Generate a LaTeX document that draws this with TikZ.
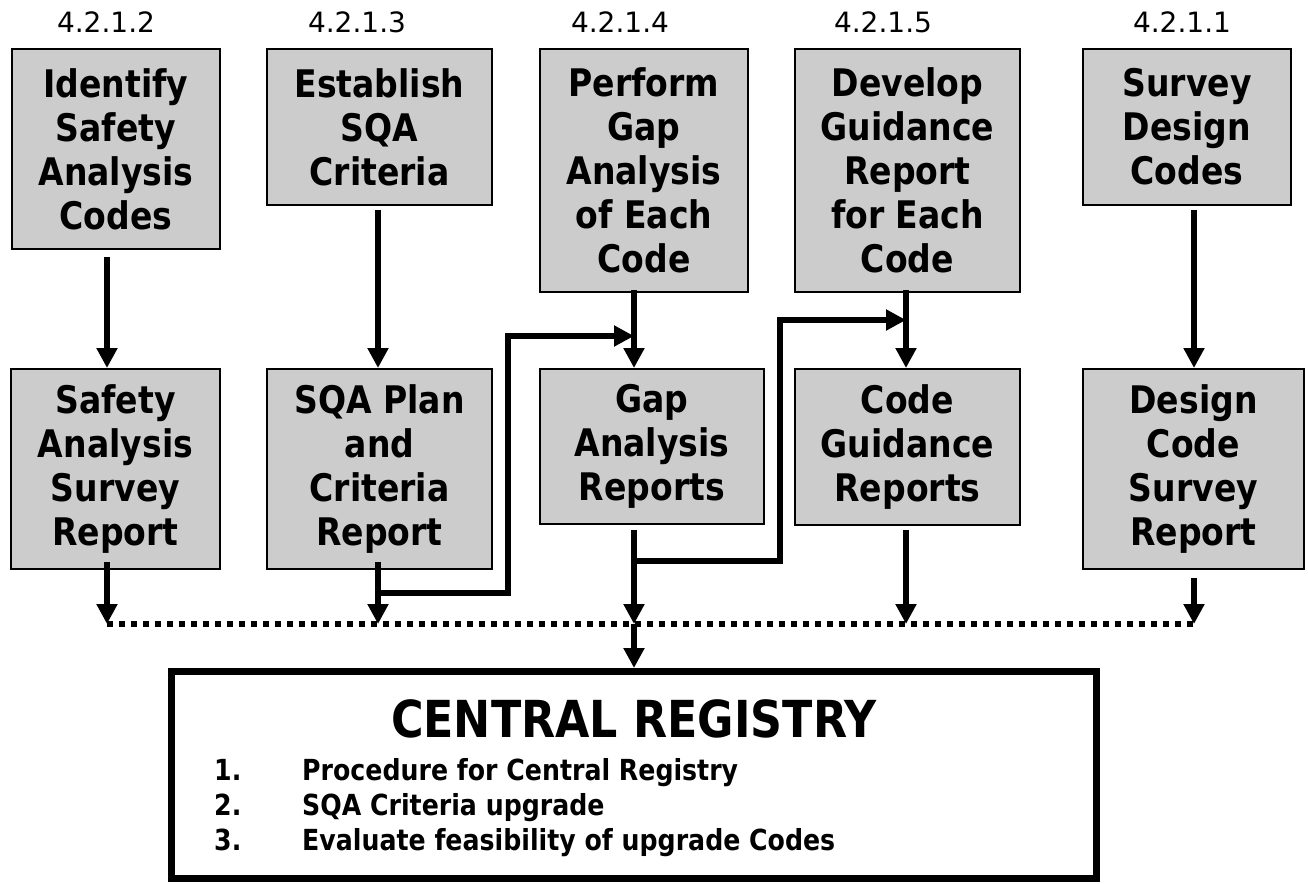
\documentclass[tikz,border=0pt]{standalone}
\usepackage{fontspec}
\setmainfont{DejaVu Sans}[FakeStretch=0.87]
\newfontfamily\numfont{DejaVu Sans}
\usetikzlibrary{arrows.meta,calc}
\definecolor{boxgray}{RGB}{204,204,204}
\newcommand\boxfont{\bfseries\fontsize{38}{44}\selectfont}
\begin{document}
\begin{tikzpicture}[x=1pt,y=-1pt,
  box/.style={draw=black, line width=2pt, fill=boxgray, inner sep=0pt, align=center, font=\boxfont},
  lab/.style={anchor=base, inner sep=0pt, font=\numfont\fontsize{28}{28}\selectfont},
  arr/.style={line width=5.5pt, -{Triangle[length=20pt,width=20pt]}},
  ln/.style={line width=5.5pt},
  dotline/.style={line width=5.5pt, dash pattern=on 5.5pt off 6.5pt},
  item/.style={anchor=base west, inner sep=0pt, font=\bfseries\fontsize{29}{29}\selectfont}]
\useasboundingbox (0,0) rectangle (1308,883);

% labels
\node[lab] (l1) at (106,33) {4.2.1.2};
\node[lab] (l2) at (357,33) {4.2.1.3};
\node[lab] (l3) at (620,33) {4.2.1.4};
\node[lab] (l4) at (883,33) {4.2.1.5};
\node[lab] (l5) at (1182,33) {4.2.1.1};

% top row
\node[box, minimum width=208pt, minimum height=200pt] (b1) at (116,149) {Identify\\Safety\\Analysis\\Codes};
\node[box, minimum width=225pt, minimum height=156pt] (b2) at (379.5,127) {Establish\\SQA\\Criteria};
\node[box, minimum width=208pt, minimum height=243pt] (b3) at (644,170.5) {Perform\\Gap\\Analysis\\of Each\\Code};
\node[box, minimum width=225pt, minimum height=243pt] (b4) at (907.5,170.5) {Develop\\Guidance\\Report\\for Each\\Code};
\node[box, minimum width=208pt, minimum height=156pt] (b5) at (1187,127) {Survey\\Design\\Codes};

% second row
\node[box, minimum width=209pt, minimum height=200pt] (r1) at (115.5,469) {Safety\\Analysis\\Survey\\Report};
\node[box, minimum width=225pt, minimum height=200pt] (r2) at (379.5,469) {SQA Plan\\and\\Criteria\\Report};
\node[box, minimum width=224pt, minimum height=155pt] (r3) at (652,446.5) {Gap\\Analysis\\Reports};
\node[box, minimum width=225pt, minimum height=156pt] (r4) at (907.5,447) {Code\\Guidance\\Reports};
\node[box, minimum width=221pt, minimum height=200pt] (r5) at (1193.5,469) {Design\\Code\\Survey\\Report};

% central registry
\node[draw=black, line width=7pt, inner sep=0pt, minimum width=925pt, minimum height=207pt] (cr) at (634,775) {};
\node[anchor=base, inner sep=0pt, font=\bfseries\fontsize{51}{51}\selectfont] (crt) at (634,737) {CENTRAL REGISTRY};
\node[item] (n1) at (214,780) {1.};
\node[item] (i1) at (302,780) {Procedure for Central Registry};
\node[item] (n2) at (214,815) {2.};
\node[item] (i2) at (302,815) {SQA Criteria upgrade};
\node[item] (n3) at (214,850) {3.};
\node[item] (i3) at (302,850) {Evaluate feasibility of upgrade Codes};

% columns
\coordinate (c1) at (107,0);
\coordinate (c2) at (378,0);
\coordinate (c3) at (634,0);
\coordinate (c4) at (906,0);
\coordinate (c5) at (1194,0);
\coordinate (dotL) at (107,624);
\coordinate (dotM) at (634,624);
\coordinate (dotR) at (1194,624);

% dotted collector
\draw[dotline] (dotL) -- (dotR);

% top to second row
\draw[arr] ($(b1.south -| c1)+(0,7)$) -- (r1.north -| c1);
\draw[arr] ($(b2.south -| c2)+(0,4)$) -- (r2.north -| c2);
\draw[arr] ($(b3.south -| c3)+(0,-3)$) -- (r3.north -| c3);
\draw[arr] ($(b4.south -| c4)+(0,-3)$) -- (r4.north -| c4);
\draw[arr] ($(b5.south -| c5)+(0,4)$) -- (r5.north -| c5);

% second row to collector
\draw[arr] ($(r1.south -| c1)+(0,-8)$) -- (dotL);
\draw[arr] ($(r2.south -| c2)+(0,-8)$) -- (dotL -| c2);
\draw[arr] ($(r3.south -| c3)+(0,5)$) -- (dotM);
\draw[arr] ($(r4.south -| c4)+(0,4)$) -- (dotL -| c4);
\draw[arr] ($(r5.south -| c5)+(0,8)$) -- (dotR);

% feedback branches
\coordinate (j1) at (378,593);
\coordinate (k1) at (508,336);
\coordinate (j2) at (634,561);
\coordinate (k2) at (780,320);
\draw[arr, line join=miter] (j1) -| (k1) -- (k1 -| c3);
\draw[arr, line join=miter] (j2) -| (k2) -- (k2 -| c4);

% to central registry
\draw[arr] (dotM) -- (cr.north);
\end{tikzpicture}
\end{document}
